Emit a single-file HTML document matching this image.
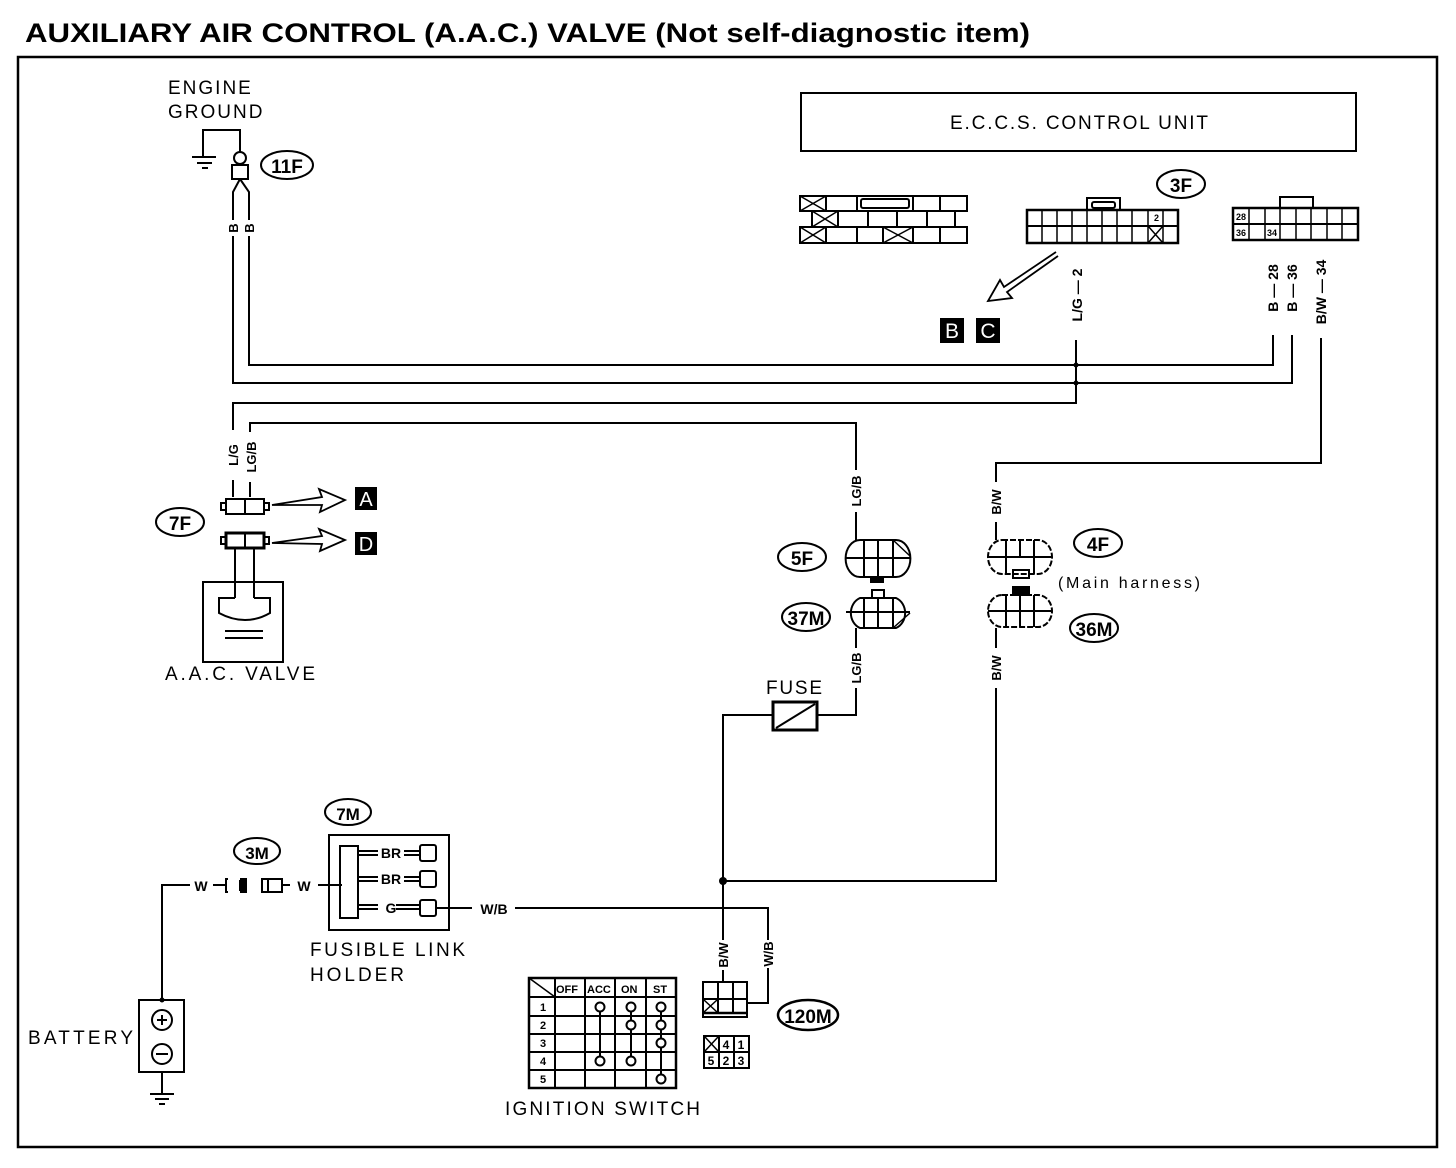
<!DOCTYPE html>
<html><head><meta charset="utf-8"><style>
html,body{margin:0;padding:0;background:#fff}
svg{display:block}
text{font-family:"Liberation Sans",sans-serif;fill:#000}
.lb{letter-spacing:2px}
</style></head><body>
<svg width="1456" height="1168" viewBox="0 0 1456 1168" xmlns="http://www.w3.org/2000/svg">
<g stroke="#000" fill="none" stroke-width="2">
<rect x="18" y="57" width="1419" height="1090" stroke-width="2.5"/>
<rect x="801" y="93" width="555" height="58"/>
</g>
<text x="25" y="42" font-size="27" font-weight="bold" textLength="1005" lengthAdjust="spacingAndGlyphs">AUXILIARY  AIR  CONTROL  (A.A.C.)  VALVE  (Not self-diagnostic item)</text>
<text x="950" y="129" font-size="19" textLength="258" lengthAdjust="spacing">E.C.C.S. CONTROL UNIT</text>

<!-- engine ground -->
<text x="168" y="94" font-size="19" class="lb">ENGINE</text>
<text x="168" y="118" font-size="19" class="lb">GROUND</text>
<g stroke="#000" fill="none" stroke-width="2">
<polyline points="203,157 203,130 240,130 240,152"/>
<line x1="192" y1="157" x2="216" y2="157"/>
<line x1="197" y1="163" x2="212" y2="163"/>
<line x1="202" y1="168" x2="208" y2="168"/>
<circle cx="240" cy="158" r="6"/>
<rect x="232" y="165" width="16" height="14"/>
<polyline points="240,179 233,192 233,383 1292,383 1292,335"/>
<polyline points="240,179 249,192 249,365 1273,365 1273,335"/>
<ellipse cx="287" cy="165" rx="26" ry="14"/>
</g>
<rect x="225" y="220" width="16" height="16" fill="#fff"/>
<rect x="241" y="220" width="16" height="16" fill="#fff"/>
<text transform="translate(238,228) rotate(-90)" font-size="13" font-weight="bold" text-anchor="middle">B</text>
<text transform="translate(254,228) rotate(-90)" font-size="13" font-weight="bold" text-anchor="middle">B</text>
<text x="287" y="173" font-size="19" font-weight="bold" text-anchor="middle">11F</text>

<!-- connectors top -->
<g stroke="#000" fill="none" stroke-width="2">
<rect x="800" y="196" width="167" height="15"/>
<rect x="812" y="211" width="143" height="16"/>
<rect x="800" y="227" width="167" height="16"/>
<line x1="826" y1="196" x2="826" y2="211"/><line x1="857" y1="196" x2="857" y2="211"/><line x1="913" y1="196" x2="913" y2="211"/><line x1="940" y1="196" x2="940" y2="211"/>
<rect x="861" y="199" width="48" height="9" rx="2"/>
<line x1="838" y1="211" x2="838" y2="227"/><line x1="868" y1="211" x2="868" y2="227"/><line x1="897" y1="211" x2="897" y2="227"/><line x1="927" y1="211" x2="927" y2="227"/>
<line x1="826" y1="227" x2="826" y2="243"/><line x1="857" y1="227" x2="857" y2="243"/><line x1="883" y1="227" x2="883" y2="243"/><line x1="913" y1="227" x2="913" y2="243"/><line x1="940" y1="227" x2="940" y2="243"/>
<path d="M800,196 L826,211 M826,196 L800,211 M812,211 L838,227 M838,211 L812,227 M800,227 L826,243 M826,227 L800,243 M883,227 L913,243 M913,227 L883,243" stroke-width="1.5"/>
<rect x="1027" y="210" width="151" height="33" stroke-width="2.5"/>
<line x1="1027" y1="226" x2="1178" y2="226"/>
<g stroke-width="1.5">
<line x1="1042" y1="210" x2="1042" y2="243"/><line x1="1057" y1="210" x2="1057" y2="243"/><line x1="1072" y1="210" x2="1072" y2="243"/><line x1="1087" y1="210" x2="1087" y2="243"/><line x1="1102" y1="210" x2="1102" y2="243"/><line x1="1117" y1="210" x2="1117" y2="243"/><line x1="1132" y1="210" x2="1132" y2="243"/><line x1="1148" y1="210" x2="1148" y2="243"/><line x1="1163" y1="210" x2="1163" y2="243"/>
<path d="M1148,226 L1163,243 M1163,226 L1148,243"/>
</g>
<rect x="1087" y="198" width="33" height="12"/>
<rect x="1092" y="202" width="23" height="6" rx="2"/>
<rect x="1233" y="208" width="125" height="32" stroke-width="2.5"/>
<line x1="1233" y1="224" x2="1358" y2="224"/>
<g stroke-width="1.5">
<line x1="1249" y1="208" x2="1249" y2="240"/><line x1="1265" y1="208" x2="1265" y2="240"/><line x1="1280" y1="208" x2="1280" y2="240"/><line x1="1296" y1="208" x2="1296" y2="240"/><line x1="1311" y1="208" x2="1311" y2="240"/><line x1="1327" y1="208" x2="1327" y2="240"/><line x1="1342" y1="208" x2="1342" y2="240"/>
</g>
<rect x="1280" y="197" width="33" height="11"/>
<ellipse cx="1181" cy="184" rx="24" ry="14"/>
<path d="M1056,252 L1004,287 L1000,280 L988,301 L1012,298 L1007,292 L1058,256" stroke-width="1.8"/>
</g>
<text x="1154" y="221" font-size="9" font-weight="bold">2</text>
<text x="1236" y="220" font-size="9" font-weight="bold">28</text>
<text x="1236" y="236" font-size="9" font-weight="bold">36</text>
<text x="1267" y="236" font-size="9" font-weight="bold">34</text>
<text x="1181" y="192" font-size="19" font-weight="bold" text-anchor="middle">3F</text>
<rect x="940" y="318" width="24" height="25" fill="#000"/>
<rect x="976" y="318" width="24" height="25" fill="#000"/>
<text x="952" y="338" font-size="21" text-anchor="middle" style="fill:#fff">B</text>
<text x="988" y="338" font-size="21" text-anchor="middle" style="fill:#fff">C</text>

<text transform="translate(1082,295) rotate(-90)" font-size="14" font-weight="bold" text-anchor="middle">L/G — 2</text>
<text transform="translate(1278,288) rotate(-90)" font-size="14" font-weight="bold" text-anchor="middle">B — 28</text>
<text transform="translate(1297,288) rotate(-90)" font-size="14" font-weight="bold" text-anchor="middle">B — 36</text>
<text transform="translate(1326,292) rotate(-90)" font-size="14" font-weight="bold" text-anchor="middle">B/W — 34</text>

<!-- wires -->
<g stroke="#000" fill="none" stroke-width="2">
<polyline points="1076,340 1076,403 233,403 233,430"/>
<line x1="233" y1="480" x2="233" y2="497"/>
<polyline points="250,432 250,423 856,423 856,470"/>
<line x1="250" y1="482" x2="250" y2="497"/>
<line x1="856" y1="512" x2="856" y2="540"/>
<polyline points="1321,338 1321,463 996,463 996,482"/>
<line x1="996" y1="522" x2="996" y2="540"/>
<line x1="996" y1="628" x2="996" y2="648"/>
<polyline points="996,688 996,881 723,881"/>
<line x1="856" y1="628" x2="856" y2="648"/>
<polyline points="856,688 856,715 818,715"/>
<polyline points="773,715 723,715 723,940"/>
<line x1="723" y1="970" x2="723" y2="982"/>
<polyline points="515,908 768,908 768,940"/>
<polyline points="768,968 768,1003 748,1003"/>
</g>
<circle cx="1076" cy="365" r="2.5"/><circle cx="1076" cy="383" r="2.5"/>
<circle cx="723" cy="881" r="4"/>
<text transform="translate(238,455) rotate(-90)" font-size="13" font-weight="bold" text-anchor="middle">L/G</text>
<text transform="translate(256,457) rotate(-90)" font-size="13" font-weight="bold" text-anchor="middle">LG/B</text>
<text transform="translate(861,491) rotate(-90)" font-size="13" font-weight="bold" text-anchor="middle">LG/B</text>
<text transform="translate(1001,502) rotate(-90)" font-size="13" font-weight="bold" text-anchor="middle">B/W</text>
<text transform="translate(861,668) rotate(-90)" font-size="13" font-weight="bold" text-anchor="middle">LG/B</text>
<text transform="translate(1001,668) rotate(-90)" font-size="13" font-weight="bold" text-anchor="middle">B/W</text>
<text transform="translate(728,955) rotate(-90)" font-size="13" font-weight="bold" text-anchor="middle">B/W</text>
<text transform="translate(773,954) rotate(-90)" font-size="13" font-weight="bold" text-anchor="middle">W/B</text>

<!-- 7F / AAC -->
<g stroke="#000" fill="none" stroke-width="2">
<rect x="226" y="499" width="38" height="15"/>
<line x1="245" y1="499" x2="245" y2="514"/>
<rect x="221" y="503" width="5" height="7"/><rect x="264" y="503" width="5" height="7"/>
<rect x="226" y="533" width="38" height="15" stroke-width="3"/>
<line x1="245" y1="533" x2="245" y2="548"/>
<rect x="221" y="537" width="5" height="7"/><rect x="264" y="537" width="5" height="7"/>
<line x1="235" y1="548" x2="235" y2="598"/><line x1="254" y1="548" x2="254" y2="598"/>
<rect x="203" y="582" width="80" height="80"/>
<path d="M235,598 L219,598 L219,613 Q232,620 245,620 Q258,620 270,613 L270,598 L254,598"/>
<line x1="225" y1="631" x2="263" y2="631"/><line x1="225" y1="638" x2="263" y2="638"/>
<ellipse cx="180" cy="522" rx="24" ry="14"/>
<path d="M272,505 L322,497 L319,489 L345,500 L320,512 L322,505 Z" stroke-width="1.8"/>
<path d="M272,543 L322,536 L319,529 L345,540 L320,551 L322,544 Z" stroke-width="1.8"/>
</g>
<rect x="355" y="487" width="22" height="23" fill="#000"/>
<rect x="355" y="532" width="22" height="23" fill="#000"/>
<text x="366" y="506" font-size="20" text-anchor="middle" style="fill:#fff">A</text>
<text x="366" y="551" font-size="20" text-anchor="middle" style="fill:#fff">D</text>
<text x="180" y="530" font-size="19" font-weight="bold" text-anchor="middle">7F</text>
<text x="165" y="680" font-size="19" textLength="150" lengthAdjust="spacing">A.A.C. VALVE</text>

<!-- 5F 37M 4F 36M -->
<g stroke="#000" fill="none" stroke-width="2">
<path d="M860,540 L896,540 A14,18 0 0 1 896,577 L860,577 A14,18 0 0 1 860,540 Z"/>
<line x1="846" y1="558" x2="910" y2="558"/>
<line x1="864" y1="540" x2="864" y2="577"/><line x1="878" y1="540" x2="878" y2="577"/><line x1="893" y1="540" x2="893" y2="577"/>
<path d="M893,540 L910,556" stroke-width="1.5"/>
<rect x="871" y="577" width="12" height="5" fill="#000"/>
<path d="M860,598 L896,598 A14,16 0 0 1 896,628 L860,628 A14,16 0 0 1 860,598 Z"/>
<line x1="846" y1="612" x2="910" y2="612"/>
<line x1="864" y1="598" x2="864" y2="628"/><line x1="878" y1="598" x2="878" y2="628"/><line x1="893" y1="598" x2="893" y2="628"/>
<path d="M893,628 L910,613" stroke-width="1.5"/>
<rect x="872" y="590" width="12" height="8"/>
<ellipse cx="802" cy="557" rx="24" ry="14"/>
<ellipse cx="806" cy="617" rx="24" ry="14"/>
<path d="M1002,540 L1038,540 A14,17 0 0 1 1038,574 L1002,574 A14,17 0 0 1 1002,540 Z" stroke-dasharray="6,2"/>
<line x1="988" y1="557" x2="1052" y2="557"/>
<line x1="1006" y1="540" x2="1006" y2="574"/><line x1="1020" y1="540" x2="1020" y2="557"/><line x1="1034" y1="540" x2="1034" y2="574"/>
<rect x="1013" y="570" width="16" height="8"/>
<rect x="1013" y="587" width="16" height="8" fill="#000"/>
<path d="M1002,595 L1038,595 A14,16 0 0 1 1038,627 L1002,627 A14,16 0 0 1 1002,595 Z" stroke-dasharray="6,2"/>
<line x1="988" y1="611" x2="1052" y2="611"/>
<line x1="1006" y1="595" x2="1006" y2="627"/><line x1="1020" y1="595" x2="1020" y2="627"/><line x1="1034" y1="595" x2="1034" y2="627"/>
<ellipse cx="1098" cy="543" rx="24" ry="14"/>
<ellipse cx="1094" cy="628" rx="24" ry="14"/>
<rect x="773" y="702" width="44" height="28" stroke-width="3"/>
<line x1="776" y1="728" x2="815" y2="704"/>
</g>
<text x="802" y="565" font-size="19" font-weight="bold" text-anchor="middle">5F</text>
<text x="806" y="625" font-size="19" font-weight="bold" text-anchor="middle">37M</text>
<text x="1098" y="551" font-size="19" font-weight="bold" text-anchor="middle">4F</text>
<text x="1094" y="636" font-size="19" font-weight="bold" text-anchor="middle">36M</text>
<text x="1058" y="588" font-size="16" textLength="142" lengthAdjust="spacing">(Main harness)</text>
<text x="766" y="694" font-size="19" textLength="56" lengthAdjust="spacing">FUSE</text>

<!-- fusible link / battery -->
<g stroke="#000" fill="none" stroke-width="2">
<polyline points="162,1000 162,885 190,885"/>
<line x1="213" y1="885" x2="226" y2="885"/>
<path d="M228,879 L226,879 L226,892 L228,892 M240,879 L246,879 L246,892 L240,892"/>
<rect x="240" y="881" width="5" height="9" fill="#000"/>
<rect x="262" y="879" width="20" height="13"/>
<line x1="268" y1="879" x2="268" y2="892"/>
<line x1="282" y1="885" x2="290" y2="885"/>
<line x1="318" y1="885" x2="342" y2="885"/>
<rect x="329" y="835" width="120" height="95"/>
<rect x="340" y="846" width="18" height="72"/>
<path d="M358,851 L378,851 M358,855 L378,855 M358,877 L378,877 M358,881 L378,881 M358,905 L378,905 M358,909 L378,909"/>
<path d="M404,851 L420,851 M404,855 L420,855 M404,877 L420,877 M404,881 L420,881 M396,905 L420,905 M396,909 L420,909"/>
<rect x="420" y="845" width="16" height="16" rx="2"/>
<rect x="420" y="871" width="16" height="16" rx="2"/>
<rect x="420" y="900" width="16" height="16" rx="2"/>
<line x1="436" y1="908" x2="472" y2="908"/>
<ellipse cx="257" cy="851" rx="23" ry="13"/>
<ellipse cx="348" cy="812" rx="23" ry="13"/>
<rect x="139" y="1000" width="45" height="72"/>
<circle cx="162" cy="1020" r="10"/><line x1="157" y1="1020" x2="167" y2="1020"/><line x1="162" y1="1015" x2="162" y2="1025"/>
<circle cx="162" cy="1054" r="10"/><line x1="156" y1="1054" x2="168" y2="1054"/>
<line x1="162" y1="1072" x2="162" y2="1094"/>
<line x1="150" y1="1094" x2="174" y2="1094"/><line x1="155" y1="1099" x2="169" y2="1099"/><line x1="159" y1="1104" x2="165" y2="1104"/>
</g>
<circle cx="162" cy="1000" r="2.5"/>
<text x="201" y="891" font-size="14" font-weight="bold" text-anchor="middle">W</text>
<text x="304" y="891" font-size="14" font-weight="bold" text-anchor="middle">W</text>
<text x="391" y="858" font-size="14" font-weight="bold" text-anchor="middle">BR</text>
<text x="391" y="884" font-size="14" font-weight="bold" text-anchor="middle">BR</text>
<text x="391" y="913" font-size="14" font-weight="bold" text-anchor="middle">G</text>
<text x="494" y="914" font-size="14" font-weight="bold" text-anchor="middle">W/B</text>
<text x="257" y="859" font-size="17" font-weight="bold" text-anchor="middle">3M</text>
<text x="348" y="820" font-size="17" font-weight="bold" text-anchor="middle">7M</text>
<text x="310" y="956" font-size="19" textLength="155" lengthAdjust="spacing">FUSIBLE LINK</text>
<text x="310" y="981" font-size="19" textLength="94" lengthAdjust="spacing">HOLDER</text>
<text x="28" y="1044" font-size="19" textLength="105" lengthAdjust="spacing">BATTERY</text>

<!-- ignition switch -->
<g stroke="#000" fill="none" stroke-width="2">
<rect x="529" y="978" width="147" height="110" stroke-width="2.5"/>
<line x1="529" y1="997" x2="676" y2="997"/><line x1="529" y1="1016" x2="676" y2="1016"/><line x1="529" y1="1034" x2="676" y2="1034"/><line x1="529" y1="1052" x2="676" y2="1052"/><line x1="529" y1="1070" x2="676" y2="1070"/>
<line x1="555" y1="978" x2="555" y2="1088"/><line x1="585" y1="978" x2="585" y2="1088"/><line x1="615" y1="978" x2="615" y2="1088"/><line x1="646" y1="978" x2="646" y2="1088"/>
<line x1="529" y1="978" x2="555" y2="997" stroke-width="1.5"/>
<line x1="600" y1="1007" x2="600" y2="1061"/>
<line x1="631" y1="1007" x2="631" y2="1061"/>
<line x1="661" y1="1007" x2="661" y2="1079"/>
</g>
<g stroke="#000" fill="#fff" stroke-width="2">
<circle cx="600" cy="1007" r="4.5"/><circle cx="600" cy="1061" r="4.5"/>
<circle cx="631" cy="1007" r="4.5"/><circle cx="631" cy="1025" r="4.5"/><circle cx="631" cy="1061" r="4.5"/>
<circle cx="661" cy="1007" r="4.5"/><circle cx="661" cy="1025" r="4.5"/><circle cx="661" cy="1043" r="4.5"/><circle cx="661" cy="1079" r="4.5"/>
</g>
<g font-size="11" font-weight="bold">
<text x="556" y="993">OFF</text><text x="587" y="993">ACC</text><text x="621" y="993">ON</text><text x="653" y="993">ST</text>
<text x="540" y="1011">1</text><text x="540" y="1029">2</text><text x="540" y="1047">3</text><text x="540" y="1065">4</text><text x="540" y="1083">5</text>
</g>
<text x="505" y="1115" font-size="19" textLength="195" lengthAdjust="spacing">IGNITION SWITCH</text>

<!-- 120M -->
<g stroke="#000" fill="none" stroke-width="2">
<rect x="703" y="982" width="44" height="35"/>
<line x1="703" y1="999" x2="747" y2="999"/><line x1="703" y1="1013" x2="747" y2="1013" stroke-width="2.5"/>
<line x1="718" y1="982" x2="718" y2="1013"/><line x1="733" y1="982" x2="733" y2="1013"/>
<path d="M704,1000 L717,1012 M717,1000 L704,1012" stroke-width="1.5"/>
<rect x="704" y="1036" width="45" height="32"/>
<line x1="704" y1="1052" x2="749" y2="1052"/>
<line x1="719" y1="1036" x2="719" y2="1068"/><line x1="734" y1="1036" x2="734" y2="1068"/>
<path d="M705,1037 L718,1051 M718,1037 L705,1051" stroke-width="1.5"/>
<ellipse cx="808" cy="1015" rx="30" ry="15" stroke-width="2.5"/>
</g>
<g font-size="12" font-weight="bold" text-anchor="middle">
<text x="726" y="1049">4</text><text x="741" y="1049">1</text>
<text x="711" y="1065">5</text><text x="726" y="1065">2</text><text x="741" y="1065">3</text>
</g>
<text x="808" y="1023" font-size="19" font-weight="bold" text-anchor="middle">120M</text>
</svg>
</body></html>
